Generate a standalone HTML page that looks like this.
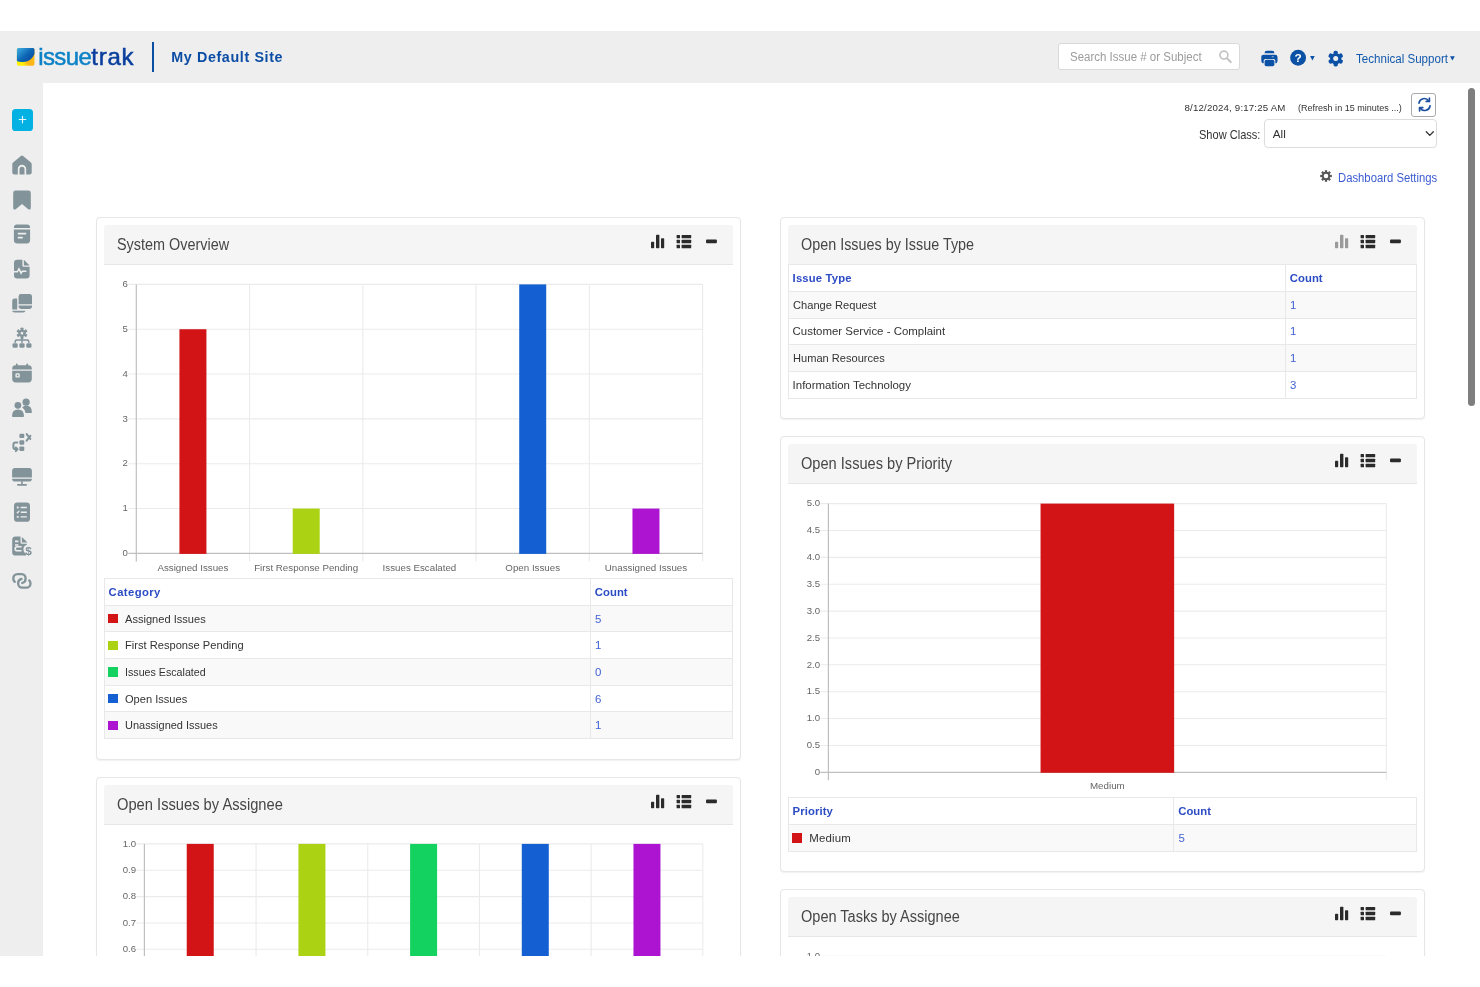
<!DOCTYPE html><html lang="en"><head><meta charset="utf-8"><title>Issuetrak Dashboard</title><style>
*{box-sizing:border-box}
html,body{margin:0;padding:0;background:#fff}
body{width:1480px;height:987px;overflow:hidden;position:relative;font-family:"Liberation Sans",sans-serif;color:#333}
#w{position:absolute;left:0;top:0;width:1480px;height:987px;overflow:hidden;will-change:transform;background:#fff}
.abs{position:absolute}
.t{position:absolute;white-space:nowrap;line-height:1}
.panel{position:absolute;border:1px solid #e6e6e6;border-radius:4px;background:#fff;box-shadow:0 1px 1.5px rgba(0,0,0,.06)}
.ph{position:absolute;height:40px;background:#f5f5f5;border-bottom:1px solid #e6e6e6;border-radius:3px 3px 0 0}
.row{position:absolute;border-top:1px solid #e8e8e8}
.vl{position:absolute;width:1px;background:#e8e8e8}
.sq{position:absolute;width:9.7px;height:9.2px}
.cover{position:absolute;left:0;width:1480px;background:#fff;z-index:50}
svg text{font-family:"Liberation Sans",sans-serif}
</style></head><body><div id="w"><div class="abs" style="left:0;top:31px;width:1480px;height:52px;background:#eeeeee"></div><div class="abs" style="left:0;top:83px;width:43px;height:873px;background:#eeeeee"></div><svg class="abs" style="left:16px;top:47px" width="20" height="20" viewBox="0 0 20 20">
<defs><linearGradient id="lg1" x1="0.1" y1="0.1" x2="0.9" y2="0.8"><stop offset="0" stop-color="#37a3dc"/><stop offset="0.55" stop-color="#0d66b4"/><stop offset="1" stop-color="#0a4ea2"/></linearGradient>
<linearGradient id="lg2" x1="0" y1="0.6" x2="1" y2="0.4"><stop offset="0" stop-color="#fff200"/><stop offset="0.35" stop-color="#fde80e"/><stop offset="0.6" stop-color="#fbb516"/><stop offset="1" stop-color="#fdb913"/></linearGradient></defs>
<rect x="0.9" y="1" width="17.55" height="17.7" rx="1.6" fill="url(#lg2)"/>
<path d="M0.9 2.6 Q0.9 1 2.5 1 H16.85 Q18.45 1 18.45 2.6 V6.8 C16.6 11.6 13 14.6 7.6 15 C4.6 15.1 2.6 14.7 0.9 14 Z" fill="url(#lg1)"/>
<path d="M8.4 17.4 Q11.2 16.6 13 14.4" stroke="#f7a01b" stroke-width="0.6" fill="none" opacity="0.8"/>
</svg><div class="t" style="left:38.2px;top:45px;font-size:24.0px;color:#0d82c6;-webkit-text-stroke:0.5px #0d82c6;letter-spacing:-0.606px">issue<span style="color:#0a3f9e;-webkit-text-stroke:0.5px #0a3f9e;letter-spacing:0.798px">trak</span></div><div class="abs" style="left:152.4px;top:42.4px;width:1.7px;height:29.2px;background:#0b4fa3"></div><div class="t" style="left:171.2px;top:50px;font-size:14.3px;font-weight:700;letter-spacing:0.636px;color:#0b4da5;">My Default Site</div><div class="abs" style="left:1058px;top:43.3px;width:182px;height:26.5px;background:#fff;border:1px solid #d9d9d9;border-radius:3px"></div><div class="t" style="left:1070.2px;top:51px;font-size:12.3px;transform:scaleX(0.9344);transform-origin:0 0;color:#9c9c9c;">Search Issue # or Subject</div><svg class="abs" style="left:1218px;top:49px" width="15" height="15" viewBox="0 0 15 15"><circle cx="5.9" cy="6.1" r="4" fill="none" stroke="#c4c4c4" stroke-width="1.7"/><path d="M9 9.3 L12.7 12.9" stroke="#c4c4c4" stroke-width="2.1" stroke-linecap="round"/></svg><svg class="abs" style="left:1260px;top:49px" width="19" height="19" viewBox="0 0 19 19" fill="#0b51a6">
<path d="M4.6 4.3 V3.9 Q4.6 1.7 6.8 1.7 H12.2 Q14.4 1.7 14.4 3.9 V4.3Z"/>
<path d="M4 5.8 H15 Q17.5 5.8 17.5 8 V11.4 Q17.5 14.2 15.3 14.2 V11.6 Q15.3 9.9 13.6 9.9 H5.4 Q3.7 9.9 3.7 11.6 V14.2 Q1.3 14.2 1.3 11.4 V8 Q1.3 5.8 4 5.8Z"/>
<rect x="4.6" y="10.8" width="9.8" height="6.5" rx="1.7"/>
<rect x="11.6" y="7.2" width="2.2" height="1.1" rx="0.5" fill="#9db9dc"/>
</svg><svg class="abs" style="left:1290px;top:49px" width="26" height="18" viewBox="0 0 26 18">
<circle cx="8.1" cy="8.75" r="7.95" fill="#0b51a6"/>
<text x="8.1" y="13" text-anchor="middle" font-size="11.8" font-weight="700" fill="#fff">?</text>
<path d="M20.1 7.1 H24.7 L22.4 11.6 Z" fill="#0b51a6"/>
</svg><svg class="abs" style="left:1326px;top:49px" width="20" height="20" viewBox="0 0 20 20"><g fill="#0b51a6"><path d="M3.999999999999999 9.6 A5.7 5.7 0 1 0 15.399999999999999 9.6 A5.7 5.7 0 1 0 3.999999999999999 9.6Z M7.199999999999999 9.6 A2.5 2.5 0 1 1 12.2 9.6 A2.5 2.5 0 1 1 7.199999999999999 9.6Z" fill-rule="evenodd"/><rect x="7.499999999999999" y="1.7999999999999998" width="4.4" height="3.3" rx="1.848" transform="rotate(0 9.7 9.6)"/><rect x="7.499999999999999" y="1.7999999999999998" width="4.4" height="3.3" rx="1.848" transform="rotate(60 9.7 9.6)"/><rect x="7.499999999999999" y="1.7999999999999998" width="4.4" height="3.3" rx="1.848" transform="rotate(120 9.7 9.6)"/><rect x="7.499999999999999" y="1.7999999999999998" width="4.4" height="3.3" rx="1.848" transform="rotate(180 9.7 9.6)"/><rect x="7.499999999999999" y="1.7999999999999998" width="4.4" height="3.3" rx="1.848" transform="rotate(240 9.7 9.6)"/><rect x="7.499999999999999" y="1.7999999999999998" width="4.4" height="3.3" rx="1.848" transform="rotate(300 9.7 9.6)"/></g></svg><div class="t" style="left:1356px;top:53px;font-size:12.5px;transform:scaleX(0.9259);transform-origin:0 0;color:#1259ad;">Technical Support</div><svg class="abs" style="left:1449px;top:55px" width="7" height="7" viewBox="0 0 7 7"><path d="M1 1.2 H5.8 L3.4 5.6Z" fill="#0b51a6"/></svg><div class="t" style="left:1184.5px;top:103px;font-size:9.7px;letter-spacing:0.169px;color:#333;">8/12/2024, 9:17:25 AM</div><div class="t" style="left:1298px;top:104px;font-size:9.2px;transform:scaleX(0.9826);transform-origin:0 0;color:#333;">(Refresh in 15 minutes ...)</div><div class="abs" style="left:1411.3px;top:93px;width:24.4px;height:23.6px;border:1px solid #ababab;border-radius:3px;background:#fff"></div><svg class="abs" style="left:1416.6px;top:97px" width="15" height="15" viewBox="0 0 15 15" fill="none" stroke="#1c4f9f" stroke-width="1.7" stroke-linecap="round" stroke-linejoin="round">
<path d="M2 6.2 A5.3 5.3 0 0 1 11.6 3.8"/><path d="M12.4 1.2 V4.4 H9.2" />
<path d="M13 8.8 A5.3 5.3 0 0 1 3.4 11.2"/><path d="M2.6 13.8 V10.6 H5.8"/>
</svg><div class="t" style="left:1198.5px;top:129px;font-size:12.8px;transform:scaleX(0.8631);transform-origin:0 0;color:#333;">Show Class:</div><div class="abs" style="left:1264.2px;top:119.4px;width:172.6px;height:28.2px;border:1px solid #dcdcdc;border-radius:4px;background:#fff"></div><div class="t" style="left:1272.8px;top:128px;font-size:11.7px;color:#333;">All</div><svg class="abs" style="left:1425px;top:130px" width="10" height="8" viewBox="0 0 10 8"><path d="M1.3 1.8 L4.8 5.4 L8.3 1.8" fill="none" stroke="#333" stroke-width="1.3" stroke-linecap="round" stroke-linejoin="round"/></svg><svg class="abs" style="left:1320.2px;top:170.2px" width="12" height="12" viewBox="0 0 12 12"><path d="M11.79 4.85 L11.79 7.15 L10.16 7.10 L9.72 8.16 L10.91 9.28 L9.28 10.91 L8.16 9.72 L7.10 10.16 L7.15 11.79 L4.85 11.79 L4.90 10.16 L3.84 9.72 L2.72 10.91 L1.09 9.28 L2.28 8.16 L1.84 7.10 L0.21 7.15 L0.21 4.85 L1.84 4.90 L2.28 3.84 L1.09 2.72 L2.72 1.09 L3.84 2.28 L4.90 1.84 L4.85 0.21 L7.15 0.21 L7.10 1.84 L8.16 2.28 L9.28 1.09 L10.91 2.72 L9.72 3.84 L10.16 4.90Z M6 3.7 A2.3 2.3 0 1 0 6 8.3 A2.3 2.3 0 1 0 6 3.7Z" fill="#555" fill-rule="evenodd"/></svg><div class="t" style="left:1338px;top:172px;font-size:12.5px;transform:scaleX(0.9035);transform-origin:0 0;color:#3b5bd1;">Dashboard Settings</div><div class="abs" style="left:1468.3px;top:88.1px;width:6.9px;height:317.6px;border-radius:3.5px;background:#7e7e7e"></div><div class="abs" style="left:11.5px;top:108.8px;width:21.5px;height:22.2px;border-radius:3.6px;background:#03b2e2"></div><svg class="abs" style="left:17.6px;top:115.4px" width="9" height="9" viewBox="0 0 9 9"><path d="M4.5 1.2V7.8M1.2 4.5H7.8" stroke="#e8f8fd" stroke-width="1.15" stroke-linecap="round"/></svg><svg class="abs" style="left:10.7px;top:153.8px" width="22" height="22" viewBox="0 0 22 22" fill="#82939a"><path d="M9.9 2 Q11 1.1 12.1 2 L19.9 8.4 Q20.7 9.1 20.7 10.2 V18.4 Q20.7 20.4 18.7 20.4 H15.2 V15 A4.2 4.2 0 0 0 6.8 15 V20.4 H3.3 Q1.3 20.4 1.3 18.4 V10.2 Q1.3 9.1 2.1 8.4Z"/><path d="M8.5 20.4 V15.2 A2.5 2.5 0 0 1 13.5 15.2 V20.4Z"/></svg><svg class="abs" style="left:10.7px;top:188.85px" width="22" height="22" viewBox="0 0 22 22" fill="#82939a"><path d="M4.6 1.6 H17.4 Q19.8 1.6 19.8 4 V18.9 Q19.8 20.5 18.4 20.5 Q17.6 20.5 17 19.9 L11 14.9 L5 19.9 Q4.4 20.5 3.6 20.5 Q2.2 20.5 2.2 18.9 V4 Q2.2 1.6 4.6 1.6Z"/></svg><svg class="abs" style="left:10.7px;top:223.4px" width="22" height="22" viewBox="0 0 22 22" fill="#82939a"><path d="M6 1.4 H16 Q19.1 1.4 19.1 4.5 V5 H2.9 V4.5 Q2.9 1.4 6 1.4Z"/><path d="M2.9 6.5 H19.1 V17 Q19.1 20.6 15.5 20.6 H6.5 Q2.9 20.6 2.9 17Z M6.8 9.7 V11.5 H15.2 V9.7Z M6.8 13.7 V15.5 H11.8 V13.7Z" fill-rule="evenodd"/></svg><svg class="abs" style="left:10.7px;top:257.75px" width="22" height="22" viewBox="0 0 22 22" fill="#82939a"><path d="M6.2 1.8 H11.4 V7.6 Q11.4 8.8 12.6 8.8 H18.6 V17.2 Q18.6 20.4 15.4 20.4 H6.2 Q3 20.4 3 17.2 V5 Q3 1.8 6.2 1.8Z M3 12.9 V14.5 H6.8 L7.9 12.5 L10 16.8 L11.8 14.1 H15.4 V12.5 H10.9 L10.2 13.6 L8 9.2 L5.9 12.9Z" fill-rule="evenodd"/><path d="M12.9 1.8 L18.6 7.5 H13.5 Q12.9 7.5 12.9 6.9Z"/></svg><svg class="abs" style="left:10.7px;top:292.4px" width="22" height="22" viewBox="0 0 22 22" fill="#82939a"><path d="M10 2 H18.6 Q21 2 21 4.4 V12.2 H7.6 V4.4 Q7.6 2 10 2Z"/><path d="M7.6 13.4 H21 V14.6 Q21 17 18.6 17 H10 Q7.6 17 7.6 14.6Z"/><path d="M1.2 9 Q1.2 6.6 3.6 6.6 H6.2 V17.6 H1.2Z"/><path d="M1.2 18.8 H14.4 Q14.2 20.6 12.2 20.6 H3.6 Q1.2 20.6 1.2 18.8Z"/></svg><svg class="abs" style="left:10.7px;top:327.05px" width="22" height="22" viewBox="0 0 22 22" fill="#82939a"><path d="M16.17 5.04 L16.17 7.36 L14.15 7.19 L13.43 8.43 L14.59 10.10 L12.58 11.26 L11.72 9.42 L10.28 9.42 L9.42 11.26 L7.41 10.10 L8.57 8.43 L7.85 7.19 L5.83 7.36 L5.83 5.04 L7.85 5.21 L8.57 3.97 L7.41 2.30 L9.42 1.14 L10.28 2.98 L11.72 2.98 L12.58 1.14 L14.59 2.30 L13.43 3.97 L14.15 5.21Z M11 4.5 A1.7 1.7 0 1 0 11 7.9 A1.7 1.7 0 1 0 11 4.5Z" fill-rule="evenodd" stroke="#82939a" stroke-width="0.7" stroke-linejoin="round" transform="rotate(30 11 6.2)"/><path d="M10.2 11 H11.8 V12.2 H16.2 Q18.6 12.2 18.6 14.6 V15.8 H17 V14.8 Q17 13.8 16 13.8 H11.8 V15.8 H10.2 V13.8 H6 Q5 13.8 5 14.8 V15.8 H3.4 V14.6 Q3.4 12.2 5.8 12.2 H10.2Z"/><rect x="1.5" y="16.2" width="5.2" height="4.6" rx="1.4"/><rect x="8.4" y="16.2" width="5.2" height="4.6" rx="1.4"/><rect x="15.3" y="16.2" width="5.2" height="4.6" rx="1.4"/></svg><svg class="abs" style="left:10.7px;top:362.3px" width="22" height="22" viewBox="0 0 22 22" fill="#82939a"><path d="M5.8 1.4 Q6.7 1.4 6.7 2.3 V3.2 H15.3 V2.3 Q15.3 1.4 16.2 1.4 Q17.1 1.4 17.1 2.3 V3.2 H17.4 Q20.8 3.2 20.8 6.6 V7.4 H1.2 V6.6 Q1.2 3.2 4.6 3.2 H4.9 V2.3 Q4.9 1.4 5.8 1.4Z"/><path d="M1.2 8.8 H20.8 V16.8 Q20.8 20.4 17.2 20.4 H4.8 Q1.2 20.4 1.2 16.8Z M5.6 11.2 Q4.4 11.2 4.4 12.4 V14.4 Q4.4 15.6 5.6 15.6 H7.6 Q8.8 15.6 8.8 14.4 V12.4 Q8.8 11.2 7.6 11.2Z M5.8 12.6 H7.4 V14.2 H5.8Z" fill-rule="evenodd"/></svg><svg class="abs" style="left:10.7px;top:396.95px" width="22" height="22" viewBox="0 0 22 22" fill="#82939a"><circle cx="15.1" cy="5.2" r="3.6"/><path d="M11.2 10.2 Q13 8.6 15.4 8.6 Q20.8 8.6 20.9 15.2 Q20.9 16 20.1 16 H14.6 Q13.8 12.2 11.2 10.2Z"/><circle cx="6.9" cy="8.3" r="3.4"/><path d="M1 19 Q1.2 12.6 7 12.6 Q12.8 12.6 13 19 Q13 20 12 20 H2 Q1 20 1 19Z"/></svg><svg class="abs" style="left:10.7px;top:431px" width="22" height="22" viewBox="0 0 22 22" fill="#82939a"><rect x="8.4" y="2.8" width="4.9" height="4.3" rx="1.1"/><rect x="8.4" y="9.3" width="4.9" height="4.4" rx="1.1"/><rect x="8.4" y="15.4" width="4.9" height="4.7" rx="1.1"/><g stroke="#82939a" stroke-width="2" stroke-linecap="round" stroke-linejoin="round" fill="none"><path d="M15.7 3.1 L19.3 7.9 M19.4 4.9 L15.6 9.7"/><path d="M6.3 11.4 H4.6 Q2.4 11.4 2.4 13.6 V16.1 Q2.4 18.3 4.6 18.3 H6.2 M4.8 16.5 L6.5 18.3 L4.8 20.1"/></g></svg><svg class="abs" style="left:10.7px;top:466.05px" width="22" height="22" viewBox="0 0 22 22" fill="#82939a"><path d="M4 2 H18 Q20.9 2 20.9 4.9 V11.6 H1.1 V4.9 Q1.1 2 4 2Z"/><path d="M1.1 12.8 H20.9 Q20.9 15.6 18 15.6 H4 Q1.1 15.6 1.1 12.8Z"/><rect x="10.2" y="15.2" width="1.6" height="3.4"/><rect x="6" y="18" width="10" height="1.7" rx="0.85"/></svg><svg class="abs" style="left:10.7px;top:500.6px" width="22" height="22" viewBox="0 0 22 22" fill="#82939a"><path d="M6.4 1.6 H15.6 Q19 1.6 19 5 V17.4 Q19 20.8 15.6 20.8 H6.4 Q3 20.8 3 17.4 V5 Q3 1.6 6.4 1.6Z M5.8 5.6 V7.4 H7.6 V5.6Z M9.6 5.8 V7.2 H15.8 V5.8Z M5.4 11.2 L6.7 12.7 L8.8 10 L7.9 9.3 L6.7 10.9 L6.3 10.4Z M9.8 10.5 V11.9 H15.8 V10.5Z M5.8 15 V16.8 H7.6 V15Z M9.6 15.2 V16.6 H15.8 V15.2Z" fill-rule="evenodd"/></svg><svg class="abs" style="left:10.7px;top:534.95px" width="22" height="22" viewBox="0 0 22 22" fill="#82939a"><path d="M4.6 1.6 H9.5 V7.3 Q9.5 8.8 11 8.8 H15.8 V10 Q12.4 10.6 12.4 14.4 Q12.4 17.6 15 18.8 V20.6 H4.6 Q1.2 20.6 1.2 17.2 V5 Q1.2 1.6 4.6 1.6Z M4 5.6 V7.2 H7.4 V5.6Z M4 9.2 V10.8 H7.4 V9.2Z M6.2 12.6 Q5 12.6 5 13.8 Q5 15 6.2 15 H10.6 V16.6 H6 Q3.4 16.6 3.4 13.8 Q3.4 11 6 11 H10.6 V12.6Z" fill-rule="evenodd"/><path d="M10.9 2 L16.5 7.5 H11.5 Q10.9 7.5 10.9 6.9Z"/><text x="17.6" y="20.4" text-anchor="middle" font-size="11.8" font-weight="700">$</text></svg><svg class="abs" style="left:10.7px;top:570px" width="22" height="22" viewBox="0 0 22 22" fill="#82939a"><g fill="none" stroke="#82939a" stroke-width="2.3" stroke-linecap="round"><path d="M3.7 11.9 C2.6 10.8 2.3 9.8 2.3 8.6 C2.3 6 4 4.1 6.4 4.1 H10.6 C13 4.1 14.6 6 14.6 8.4 C14.6 10.8 13.2 12.4 11.2 13"/><path d="M10.5 8.9 C8.5 9.5 7.1 11 7.1 13.3 C7.1 15.8 8.8 17.7 11.2 17.7 H15.2 C17.7 17.7 19.5 15.9 19.5 13.4 C19.5 12.2 19.1 11.2 18.2 10.4"/></g></svg><div class="panel" style="left:96px;top:217px;width:645px;height:543px"></div><div class="ph" style="left:104px;top:225px;width:629px"></div><div class="t" style="left:117.1px;top:237px;font-size:15.8px;transform:scaleX(0.9120);transform-origin:0 0;color:#464646;">System Overview</div><svg class="abs" style="left:643px;top:224.67px" width="90" height="40" viewBox="0 0 90 40"><g fill="#2b2b2b"><rect x="8" y="16.8" width="3.2" height="6.4" rx="0.7"/><rect x="13" y="9.7" width="3.4" height="13.5" rx="0.7"/><rect x="18" y="13.3" width="3.2" height="9.9" rx="0.7"/></g><g fill="#2b2b2b"><rect x="33.6" y="9.9" width="3.4" height="3.4" rx="0.5"/><rect x="38.6" y="9.9" width="9.6" height="3.4" rx="0.5"/><rect x="33.6" y="14.8" width="3.4" height="3.4" rx="0.5"/><rect x="38.6" y="14.8" width="9.6" height="3.4" rx="0.5"/><rect x="33.6" y="19.8" width="3.4" height="3.4" rx="0.5"/><rect x="38.6" y="19.8" width="9.6" height="3.4" rx="0.5"/></g><rect x="63" y="14.5" width="10.9" height="3.7" rx="1" fill="#2b2b2b"/></svg><div class="row" style="left:104px;top:578px;width:629px;height:26.67px;background:#fff"></div><div class="row" style="left:104px;top:604.67px;width:629px;height:26.67px;background:#f9f9f9"></div><div class="row" style="left:104px;top:631.33px;width:629px;height:26.67px;background:#fff"></div><div class="row" style="left:104px;top:658px;width:629px;height:26.67px;background:#f9f9f9"></div><div class="row" style="left:104px;top:684.67px;width:629px;height:26.67px;background:#fff"></div><div class="row" style="left:104px;top:711.33px;width:629px;height:26.67px;background:#f9f9f9"></div><div class="row" style="left:104px;top:738px;width:629px;height:1px"></div><div class="vl" style="left:104px;top:578px;height:161px"></div><div class="vl" style="left:590px;top:578px;height:161px"></div><div class="vl" style="left:732px;top:578px;height:161px"></div><div class="t" style="left:108.6px;top:587px;font-size:11.3px;font-weight:700;letter-spacing:0.403px;color:#2c4cc4;">Category</div><div class="t" style="left:594.8px;top:587px;font-size:11.3px;font-weight:700;letter-spacing:0.042px;color:#2c4cc4;">Count</div><div class="sq" style="left:108.4px;top:614.07px;background:#d21416"></div><div class="t" style="left:125.3px;top:614px;font-size:11.45px;transform:scaleX(0.9691);transform-origin:0 0;color:#333;">Assigned Issues</div><div class="t" style="left:595px;top:614px;font-size:11.45px;color:#4262d3;">5</div><div class="sq" style="left:108.4px;top:640.73px;background:#acd214"></div><div class="t" style="left:125.3px;top:640px;font-size:11.45px;transform:scaleX(0.9722);transform-origin:0 0;color:#333;">First Response Pending</div><div class="t" style="left:595px;top:640px;font-size:11.45px;color:#4262d3;">1</div><div class="sq" style="left:108.4px;top:667.4px;background:#14d260"></div><div class="t" style="left:125.3px;top:667px;font-size:11.45px;transform:scaleX(0.9335);transform-origin:0 0;color:#333;">Issues Escalated</div><div class="t" style="left:595px;top:667px;font-size:11.45px;color:#4262d3;">0</div><div class="sq" style="left:108.4px;top:694.07px;background:#1460d2"></div><div class="t" style="left:125.3px;top:694px;font-size:11.45px;transform:scaleX(0.9691);transform-origin:0 0;color:#333;">Open Issues</div><div class="t" style="left:595px;top:694px;font-size:11.45px;color:#4262d3;">6</div><div class="sq" style="left:108.4px;top:720.73px;background:#ac14d2"></div><div class="t" style="left:125.3px;top:720px;font-size:11.45px;transform:scaleX(0.9592);transform-origin:0 0;color:#333;">Unassigned Issues</div><div class="t" style="left:595px;top:720px;font-size:11.45px;color:#4262d3;">1</div><div class="panel" style="left:96px;top:777px;width:645px;height:543px"></div><div class="ph" style="left:104px;top:785px;width:629px"></div><div class="t" style="left:117.1px;top:797px;font-size:15.8px;transform:scaleX(0.9305);transform-origin:0 0;color:#464646;">Open Issues by Assignee</div><svg class="abs" style="left:643px;top:784.67px" width="90" height="40" viewBox="0 0 90 40"><g fill="#2b2b2b"><rect x="8" y="16.8" width="3.2" height="6.4" rx="0.7"/><rect x="13" y="9.7" width="3.4" height="13.5" rx="0.7"/><rect x="18" y="13.3" width="3.2" height="9.9" rx="0.7"/></g><g fill="#2b2b2b"><rect x="33.6" y="9.9" width="3.4" height="3.4" rx="0.5"/><rect x="38.6" y="9.9" width="9.6" height="3.4" rx="0.5"/><rect x="33.6" y="14.8" width="3.4" height="3.4" rx="0.5"/><rect x="38.6" y="14.8" width="9.6" height="3.4" rx="0.5"/><rect x="33.6" y="19.8" width="3.4" height="3.4" rx="0.5"/><rect x="38.6" y="19.8" width="9.6" height="3.4" rx="0.5"/></g><rect x="63" y="14.5" width="10.9" height="3.7" rx="1" fill="#2b2b2b"/></svg><div class="panel" style="left:780px;top:217px;width:645px;height:202px"></div><div class="ph" style="left:788px;top:225px;width:629px"></div><div class="t" style="left:801.1px;top:237px;font-size:15.8px;transform:scaleX(0.9096);transform-origin:0 0;color:#464646;">Open Issues by Issue Type</div><svg class="abs" style="left:1327px;top:224.67px" width="90" height="40" viewBox="0 0 90 40"><g fill="#9a9a9a"><rect x="8" y="16.8" width="3.2" height="6.4" rx="0.7"/><rect x="13" y="9.7" width="3.4" height="13.5" rx="0.7"/><rect x="18" y="13.3" width="3.2" height="9.9" rx="0.7"/></g><g fill="#2b2b2b"><rect x="33.6" y="9.9" width="3.4" height="3.4" rx="0.5"/><rect x="38.6" y="9.9" width="9.6" height="3.4" rx="0.5"/><rect x="33.6" y="14.8" width="3.4" height="3.4" rx="0.5"/><rect x="38.6" y="14.8" width="9.6" height="3.4" rx="0.5"/><rect x="33.6" y="19.8" width="3.4" height="3.4" rx="0.5"/><rect x="38.6" y="19.8" width="9.6" height="3.4" rx="0.5"/></g><rect x="63" y="14.5" width="10.9" height="3.7" rx="1" fill="#2b2b2b"/></svg><div class="row" style="left:788px;top:264.2px;width:629px;height:26.67px;background:#fff"></div><div class="row" style="left:788px;top:290.87px;width:629px;height:26.67px;background:#f9f9f9"></div><div class="row" style="left:788px;top:317.53px;width:629px;height:26.67px;background:#fff"></div><div class="row" style="left:788px;top:344.2px;width:629px;height:26.67px;background:#f9f9f9"></div><div class="row" style="left:788px;top:370.87px;width:629px;height:26.67px;background:#fff"></div><div class="row" style="left:788px;top:397.53px;width:629px;height:1px"></div><div class="vl" style="left:788px;top:264.2px;height:134.33px"></div><div class="vl" style="left:1285px;top:264.2px;height:134.33px"></div><div class="vl" style="left:1416px;top:264.2px;height:134.33px"></div><div class="t" style="left:792.6px;top:273px;font-size:11.3px;font-weight:700;letter-spacing:0.159px;color:#2c4cc4;">Issue Type</div><div class="t" style="left:1289.8px;top:273px;font-size:11.3px;font-weight:700;letter-spacing:0.042px;color:#2c4cc4;">Count</div><div class="t" style="left:792.6px;top:300px;font-size:11.45px;transform:scaleX(0.9716);transform-origin:0 0;color:#333;">Change Request</div><div class="t" style="left:1290px;top:300px;font-size:11.45px;color:#4262d3;">1</div><div class="t" style="left:792.6px;top:326px;font-size:11.45px;letter-spacing:-0.001px;color:#333;">Customer Service - Complaint</div><div class="t" style="left:1290px;top:326px;font-size:11.45px;color:#4262d3;">1</div><div class="t" style="left:792.6px;top:353px;font-size:11.45px;transform:scaleX(0.9692);transform-origin:0 0;color:#333;">Human Resources</div><div class="t" style="left:1290px;top:353px;font-size:11.45px;color:#4262d3;">1</div><div class="t" style="left:792.6px;top:380px;font-size:11.45px;letter-spacing:0.015px;color:#333;">Information Technology</div><div class="t" style="left:1290px;top:380px;font-size:11.45px;color:#4262d3;">3</div><div class="panel" style="left:780px;top:436px;width:645px;height:436px"></div><div class="ph" style="left:788px;top:444px;width:629px"></div><div class="t" style="left:801.1px;top:456px;font-size:15.8px;transform:scaleX(0.9251);transform-origin:0 0;color:#464646;">Open Issues by Priority</div><svg class="abs" style="left:1327px;top:443.67px" width="90" height="40" viewBox="0 0 90 40"><g fill="#2b2b2b"><rect x="8" y="16.8" width="3.2" height="6.4" rx="0.7"/><rect x="13" y="9.7" width="3.4" height="13.5" rx="0.7"/><rect x="18" y="13.3" width="3.2" height="9.9" rx="0.7"/></g><g fill="#2b2b2b"><rect x="33.6" y="9.9" width="3.4" height="3.4" rx="0.5"/><rect x="38.6" y="9.9" width="9.6" height="3.4" rx="0.5"/><rect x="33.6" y="14.8" width="3.4" height="3.4" rx="0.5"/><rect x="38.6" y="14.8" width="9.6" height="3.4" rx="0.5"/><rect x="33.6" y="19.8" width="3.4" height="3.4" rx="0.5"/><rect x="38.6" y="19.8" width="9.6" height="3.4" rx="0.5"/></g><rect x="63" y="14.5" width="10.9" height="3.7" rx="1" fill="#2b2b2b"/></svg><div class="row" style="left:788px;top:797.3px;width:629px;height:26.67px;background:#fff"></div><div class="row" style="left:788px;top:823.97px;width:629px;height:26.67px;background:#f9f9f9"></div><div class="row" style="left:788px;top:850.63px;width:629px;height:1px"></div><div class="vl" style="left:788px;top:797.3px;height:54.33px"></div><div class="vl" style="left:1173.4px;top:797.3px;height:54.33px"></div><div class="vl" style="left:1416px;top:797.3px;height:54.33px"></div><div class="t" style="left:792.6px;top:806px;font-size:11.3px;font-weight:700;letter-spacing:0.106px;color:#2c4cc4;">Priority</div><div class="t" style="left:1178.2px;top:806px;font-size:11.3px;font-weight:700;letter-spacing:0.042px;color:#2c4cc4;">Count</div><div class="sq" style="left:792.4px;top:833.37px;background:#d21416"></div><div class="t" style="left:809.3px;top:833px;font-size:11.45px;letter-spacing:0.155px;color:#333;">Medium</div><div class="t" style="left:1178.4px;top:833px;font-size:11.45px;color:#4262d3;">5</div><div class="panel" style="left:780px;top:889px;width:645px;height:435px"></div><div class="ph" style="left:788px;top:897px;width:629px"></div><div class="t" style="left:801.1px;top:909px;font-size:15.8px;transform:scaleX(0.9199);transform-origin:0 0;color:#464646;">Open Tasks by Assignee</div><svg class="abs" style="left:1327px;top:896.67px" width="90" height="40" viewBox="0 0 90 40"><g fill="#2b2b2b"><rect x="8" y="16.8" width="3.2" height="6.4" rx="0.7"/><rect x="13" y="9.7" width="3.4" height="13.5" rx="0.7"/><rect x="18" y="13.3" width="3.2" height="9.9" rx="0.7"/></g><g fill="#2b2b2b"><rect x="33.6" y="9.9" width="3.4" height="3.4" rx="0.5"/><rect x="38.6" y="9.9" width="9.6" height="3.4" rx="0.5"/><rect x="33.6" y="14.8" width="3.4" height="3.4" rx="0.5"/><rect x="38.6" y="14.8" width="9.6" height="3.4" rx="0.5"/><rect x="33.6" y="19.8" width="3.4" height="3.4" rx="0.5"/><rect x="38.6" y="19.8" width="9.6" height="3.4" rx="0.5"/></g><rect x="63" y="14.5" width="10.9" height="3.7" rx="1" fill="#2b2b2b"/></svg><svg class="abs" style="left:0;top:0" width="1480" height="987" viewBox="0 0 1480 987"><line x1="128.3" y1="508.57" x2="702.6" y2="508.57" stroke="#ebebeb" stroke-width="1.1"/><line x1="128.3" y1="463.73" x2="702.6" y2="463.73" stroke="#ebebeb" stroke-width="1.1"/><line x1="128.3" y1="418.9" x2="702.6" y2="418.9" stroke="#ebebeb" stroke-width="1.1"/><line x1="128.3" y1="374.07" x2="702.6" y2="374.07" stroke="#ebebeb" stroke-width="1.1"/><line x1="128.3" y1="329.23" x2="702.6" y2="329.23" stroke="#ebebeb" stroke-width="1.1"/><line x1="128.3" y1="284.4" x2="702.6" y2="284.4" stroke="#ebebeb" stroke-width="1.1"/><line x1="249.56" y1="284.4" x2="249.56" y2="561.4" stroke="#ebebeb" stroke-width="1.1"/><line x1="362.82" y1="284.4" x2="362.82" y2="561.4" stroke="#ebebeb" stroke-width="1.1"/><line x1="476.08" y1="284.4" x2="476.08" y2="561.4" stroke="#ebebeb" stroke-width="1.1"/><line x1="589.34" y1="284.4" x2="589.34" y2="561.4" stroke="#ebebeb" stroke-width="1.1"/><line x1="702.6" y1="284.4" x2="702.6" y2="561.4" stroke="#ebebeb" stroke-width="1.1"/><line x1="136.3" y1="284.4" x2="136.3" y2="561.4" stroke="#bfbfbf" stroke-width="1.2"/><line x1="128.3" y1="553.4" x2="702.6" y2="553.4" stroke="#bfbfbf" stroke-width="1.2"/><rect x="179.43" y="329.23" width="27" height="224.67" fill="#d21416"/><rect x="292.69" y="508.57" width="27" height="45.33" fill="#acd214"/><rect x="519.21" y="284.4" width="27" height="269.5" fill="#1460d2"/><rect x="632.47" y="508.57" width="27" height="45.33" fill="#ac14d2"/><text x="127.9" y="556.15" text-anchor="end" font-size="9.6" fill="#666">0</text><text x="127.9" y="511.32" text-anchor="end" font-size="9.6" fill="#666">1</text><text x="127.9" y="466.48" text-anchor="end" font-size="9.6" fill="#666">2</text><text x="127.9" y="421.65" text-anchor="end" font-size="9.6" fill="#666">3</text><text x="127.9" y="376.82" text-anchor="end" font-size="9.6" fill="#666">4</text><text x="127.9" y="331.98" text-anchor="end" font-size="9.6" fill="#666">5</text><text x="127.9" y="287.15" text-anchor="end" font-size="9.6" fill="#666">6</text><text x="192.93" y="570.5" text-anchor="middle" font-size="9.75" fill="#666">Assigned Issues</text><text x="306.19" y="570.5" text-anchor="middle" font-size="9.75" fill="#666">First Response Pending</text><text x="419.45" y="570.5" text-anchor="middle" font-size="9.75" fill="#666">Issues Escalated</text><text x="532.71" y="570.5" text-anchor="middle" font-size="9.75" fill="#666">Open Issues</text><text x="645.97" y="570.5" text-anchor="middle" font-size="9.75" fill="#666">Unassigned Issues</text><line x1="136.4" y1="1081.05" x2="702.8" y2="1081.05" stroke="#ebebeb" stroke-width="1.1"/><line x1="136.4" y1="1054.7" x2="702.8" y2="1054.7" stroke="#ebebeb" stroke-width="1.1"/><line x1="136.4" y1="1028.35" x2="702.8" y2="1028.35" stroke="#ebebeb" stroke-width="1.1"/><line x1="136.4" y1="1002" x2="702.8" y2="1002" stroke="#ebebeb" stroke-width="1.1"/><line x1="136.4" y1="975.65" x2="702.8" y2="975.65" stroke="#ebebeb" stroke-width="1.1"/><line x1="136.4" y1="949.3" x2="702.8" y2="949.3" stroke="#ebebeb" stroke-width="1.1"/><line x1="136.4" y1="922.95" x2="702.8" y2="922.95" stroke="#ebebeb" stroke-width="1.1"/><line x1="136.4" y1="896.6" x2="702.8" y2="896.6" stroke="#ebebeb" stroke-width="1.1"/><line x1="136.4" y1="870.25" x2="702.8" y2="870.25" stroke="#ebebeb" stroke-width="1.1"/><line x1="136.4" y1="843.9" x2="702.8" y2="843.9" stroke="#ebebeb" stroke-width="1.1"/><line x1="256.08" y1="843.9" x2="256.08" y2="1115.4" stroke="#ebebeb" stroke-width="1.1"/><line x1="367.76" y1="843.9" x2="367.76" y2="1115.4" stroke="#ebebeb" stroke-width="1.1"/><line x1="479.44" y1="843.9" x2="479.44" y2="1115.4" stroke="#ebebeb" stroke-width="1.1"/><line x1="591.12" y1="843.9" x2="591.12" y2="1115.4" stroke="#ebebeb" stroke-width="1.1"/><line x1="702.8" y1="843.9" x2="702.8" y2="1115.4" stroke="#ebebeb" stroke-width="1.1"/><line x1="144.4" y1="843.9" x2="144.4" y2="1115.4" stroke="#bfbfbf" stroke-width="1.2"/><line x1="136.4" y1="1107.4" x2="702.8" y2="1107.4" stroke="#bfbfbf" stroke-width="1.2"/><rect x="186.74" y="843.9" width="27" height="264" fill="#d21416"/><rect x="298.42" y="843.9" width="27" height="264" fill="#acd214"/><rect x="410.1" y="843.9" width="27" height="264" fill="#14d260"/><rect x="521.78" y="843.9" width="27" height="264" fill="#1460d2"/><rect x="633.46" y="843.9" width="27" height="264" fill="#ac14d2"/><text x="136" y="1110.15" text-anchor="end" font-size="9.6" fill="#666">0.0</text><text x="136" y="1083.8" text-anchor="end" font-size="9.6" fill="#666">0.1</text><text x="136" y="1057.45" text-anchor="end" font-size="9.6" fill="#666">0.2</text><text x="136" y="1031.1" text-anchor="end" font-size="9.6" fill="#666">0.3</text><text x="136" y="1004.75" text-anchor="end" font-size="9.6" fill="#666">0.4</text><text x="136" y="978.4" text-anchor="end" font-size="9.6" fill="#666">0.5</text><text x="136" y="952.05" text-anchor="end" font-size="9.6" fill="#666">0.6</text><text x="136" y="925.7" text-anchor="end" font-size="9.6" fill="#666">0.7</text><text x="136" y="899.35" text-anchor="end" font-size="9.6" fill="#666">0.8</text><text x="136" y="873" text-anchor="end" font-size="9.6" fill="#666">0.9</text><text x="136" y="846.65" text-anchor="end" font-size="9.6" fill="#666">1.0</text><line x1="820.4" y1="745.43" x2="1386.3" y2="745.43" stroke="#ebebeb" stroke-width="1.1"/><line x1="820.4" y1="718.56" x2="1386.3" y2="718.56" stroke="#ebebeb" stroke-width="1.1"/><line x1="820.4" y1="691.69" x2="1386.3" y2="691.69" stroke="#ebebeb" stroke-width="1.1"/><line x1="820.4" y1="664.82" x2="1386.3" y2="664.82" stroke="#ebebeb" stroke-width="1.1"/><line x1="820.4" y1="637.95" x2="1386.3" y2="637.95" stroke="#ebebeb" stroke-width="1.1"/><line x1="820.4" y1="611.08" x2="1386.3" y2="611.08" stroke="#ebebeb" stroke-width="1.1"/><line x1="820.4" y1="584.21" x2="1386.3" y2="584.21" stroke="#ebebeb" stroke-width="1.1"/><line x1="820.4" y1="557.34" x2="1386.3" y2="557.34" stroke="#ebebeb" stroke-width="1.1"/><line x1="820.4" y1="530.47" x2="1386.3" y2="530.47" stroke="#ebebeb" stroke-width="1.1"/><line x1="820.4" y1="503.6" x2="1386.3" y2="503.6" stroke="#ebebeb" stroke-width="1.1"/><line x1="1386.3" y1="503.6" x2="1386.3" y2="780.3" stroke="#ebebeb" stroke-width="1.1"/><line x1="828.4" y1="503.6" x2="828.4" y2="780.3" stroke="#bfbfbf" stroke-width="1.2"/><line x1="820.4" y1="772.3" x2="1386.3" y2="772.3" stroke="#bfbfbf" stroke-width="1.2"/><rect x="1040.55" y="503.6" width="133.6" height="269.2" fill="#d21416"/><text x="820" y="775.05" text-anchor="end" font-size="9.6" fill="#666">0</text><text x="820" y="748.18" text-anchor="end" font-size="9.6" fill="#666">0.5</text><text x="820" y="721.31" text-anchor="end" font-size="9.6" fill="#666">1.0</text><text x="820" y="694.44" text-anchor="end" font-size="9.6" fill="#666">1.5</text><text x="820" y="667.57" text-anchor="end" font-size="9.6" fill="#666">2.0</text><text x="820" y="640.7" text-anchor="end" font-size="9.6" fill="#666">2.5</text><text x="820" y="613.83" text-anchor="end" font-size="9.6" fill="#666">3.0</text><text x="820" y="586.96" text-anchor="end" font-size="9.6" fill="#666">3.5</text><text x="820" y="560.09" text-anchor="end" font-size="9.6" fill="#666">4.0</text><text x="820" y="533.22" text-anchor="end" font-size="9.6" fill="#666">4.5</text><text x="820" y="506.35" text-anchor="end" font-size="9.6" fill="#666">5.0</text><text x="1107.35" y="789.4" text-anchor="middle" font-size="9.75" fill="#666">Medium</text><line x1="820.4" y1="1198.23" x2="1386.3" y2="1198.23" stroke="#ebebeb" stroke-width="1.1"/><line x1="820.4" y1="1171.36" x2="1386.3" y2="1171.36" stroke="#ebebeb" stroke-width="1.1"/><line x1="820.4" y1="1144.49" x2="1386.3" y2="1144.49" stroke="#ebebeb" stroke-width="1.1"/><line x1="820.4" y1="1117.62" x2="1386.3" y2="1117.62" stroke="#ebebeb" stroke-width="1.1"/><line x1="820.4" y1="1090.75" x2="1386.3" y2="1090.75" stroke="#ebebeb" stroke-width="1.1"/><line x1="820.4" y1="1063.88" x2="1386.3" y2="1063.88" stroke="#ebebeb" stroke-width="1.1"/><line x1="820.4" y1="1037.01" x2="1386.3" y2="1037.01" stroke="#ebebeb" stroke-width="1.1"/><line x1="820.4" y1="1010.14" x2="1386.3" y2="1010.14" stroke="#ebebeb" stroke-width="1.1"/><line x1="820.4" y1="983.27" x2="1386.3" y2="983.27" stroke="#ebebeb" stroke-width="1.1"/><line x1="820.4" y1="956.4" x2="1386.3" y2="956.4" stroke="#ebebeb" stroke-width="1.1"/><line x1="1386.3" y1="956.4" x2="1386.3" y2="1233.1" stroke="#ebebeb" stroke-width="1.1"/><line x1="828.4" y1="956.4" x2="828.4" y2="1233.1" stroke="#bfbfbf" stroke-width="1.2"/><line x1="820.4" y1="1225.1" x2="1386.3" y2="1225.1" stroke="#bfbfbf" stroke-width="1.2"/><text x="820" y="1227.85" text-anchor="end" font-size="9.6" fill="#666">0.0</text><text x="820" y="1200.98" text-anchor="end" font-size="9.6" fill="#666">0.1</text><text x="820" y="1174.11" text-anchor="end" font-size="9.6" fill="#666">0.2</text><text x="820" y="1147.24" text-anchor="end" font-size="9.6" fill="#666">0.3</text><text x="820" y="1120.37" text-anchor="end" font-size="9.6" fill="#666">0.4</text><text x="820" y="1093.5" text-anchor="end" font-size="9.6" fill="#666">0.5</text><text x="820" y="1066.63" text-anchor="end" font-size="9.6" fill="#666">0.6</text><text x="820" y="1039.76" text-anchor="end" font-size="9.6" fill="#666">0.7</text><text x="820" y="1012.89" text-anchor="end" font-size="9.6" fill="#666">0.8</text><text x="820" y="986.02" text-anchor="end" font-size="9.6" fill="#666">0.9</text><text x="820" y="959.15" text-anchor="end" font-size="9.6" fill="#666">1.0</text></svg><div class="cover" style="top:0;height:31px"></div><div class="cover" style="top:956px;height:31px"></div></div></body></html>
